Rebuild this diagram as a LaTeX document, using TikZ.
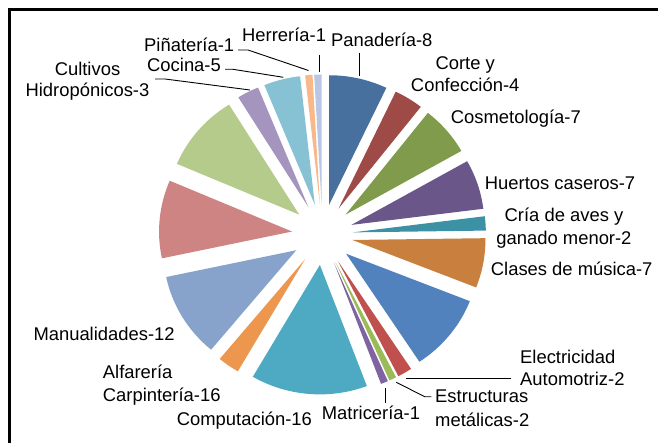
\documentclass[tikz,border=0pt]{standalone}
\usepackage{fontspec}
\setmainfont{Liberation Sans}
\definecolor{cA}{HTML}{48709E}
\definecolor{cB}{HTML}{9E4A47}
\definecolor{cC}{HTML}{809B4C}
\definecolor{cD}{HTML}{6B5689}
\definecolor{cE}{HTML}{3D91A5}
\definecolor{cF}{HTML}{C9803F}
\definecolor{cG}{HTML}{5282BD}
\definecolor{cH}{HTML}{C0504D}
\definecolor{cI}{HTML}{9BBB59}
\definecolor{cJ}{HTML}{8064A2}
\definecolor{cK}{HTML}{4DAAC2}
\definecolor{cL}{HTML}{EC974D}
\definecolor{cM}{HTML}{87A3CB}
\definecolor{cN}{HTML}{CE8482}
\definecolor{cO}{HTML}{B5CB8C}
\definecolor{cP}{HTML}{A594BE}
\definecolor{cQ}{HTML}{86C2D4}
\definecolor{cR}{HTML}{F9B88A}
\definecolor{cS}{HTML}{B9C8E2}
\begin{document}
\begin{tikzpicture}[x=1pt,y=1pt,
  lbl/.style={inner sep=0pt, font=\fontsize{18.4}{22}\selectfont},
  leader/.style={line width=0.9pt, black},
  frameline/.style={line width=2.5pt, black}]
\useasboundingbox (0,0) rectangle (658,442);
\fill[white] (0,0) rectangle (658,442);
\clip (0,0) rectangle (658,442);
\draw[frameline] (9.5,-5) -- (9.5,432.5) -- (670,432.5);
\def\cx{322.4}\def\cy{207.5}\def\dd{30.5}\def\rx{133}\def\ry{129.5}
\foreach \s/\e/\col in {0/8/cA, 8/12/cB, 12/19/cC, 19/26/cD, 26/28/cE, 28/35/cF,
  35/46/cG, 46/48/cH, 48/49/cI, 49/50/cJ, 50/66/cK, 66/69/cL, 69/81/cM,
  81/92/cN, 92/103/cO, 103/106/cP, 106/111/cQ, 111/112/cR, 112/113/cS} {
  \pgfmathsetmacro\aS{90-\s*3.1858407}
  \pgfmathsetmacro\aE{90-\e*3.1858407}
  \pgfmathsetmacro\aM{(\aS+\aE)/2}
  \fill[\col] ({\cx+\dd*cos(\aM)},{\cy+\dd*sin(\aM)}) -- ++({\rx*cos(\aS)},{\ry*sin(\aS)})
     arc[start angle=\aS, end angle=\aE, x radius=\rx, y radius=\ry] -- cycle;
}
% labels
\node[lbl, anchor=base west] (herr) at (242,400.3) {Herrería-1};
\node[lbl, anchor=base west] (pina) at (144,390.3) {Piñatería-1};
\node[lbl, anchor=base west] (coci) at (147,370.3) {Cocina-5};
\node[lbl, anchor=base] (cult1) at (87.5,366) {Cultivos};
\node[lbl, anchor=base] (cult2) at (87.5,345.3) {Hidropónicos-3};
\node[lbl, anchor=base west] (pana) at (331,395.3) {Panadería-8};
\node[lbl, anchor=base] (cort1) at (465.2,372.5) {Corte y};
\node[lbl, anchor=base] (cort2) at (465.2,350.3) {Confección-4};
\node[lbl, anchor=base west] (cosm) at (450.7,318.7) {Cosmetología-7};
\node[lbl, anchor=base west] (huer) at (484.7,252.7) {Huertos caseros-7};
\node[lbl, anchor=base] (cria1) at (564,220) {Cría de aves y};
\node[lbl, anchor=base] (cria2) at (564,197) {ganado menor-2};
\node[lbl, anchor=base west] (clas) at (490.7,167) {Clases de música-7};
\node[lbl, anchor=base west] (elec1) at (520,78.7) {Electricidad};
\node[lbl, anchor=base west] (elec2) at (520,57) {Automotriz-2};
\node[lbl, anchor=base west] (estr1) at (435,39.3) {Estructuras};
\node[lbl, anchor=base west] (estr2) at (435,16) {metálicas-2};
\node[lbl, anchor=base west] (matr) at (321.7,22.7) {Matricería-1};
\node[lbl, anchor=base west] (comp) at (176.7,17) {Computación-16};
\node[lbl, anchor=base west] (alfa1) at (102.7,63.7) {Alfarería};
\node[lbl, anchor=base west] (alfa2) at (102.7,40.3) {Carpintería-16};
\node[lbl, anchor=base west] (manu) at (33.3,101.3) {Manualidades-12};
% leader coordinates
\coordinate (herrA) at (319,387);
\coordinate (herrB) at (319,370);
\coordinate (pinaA) at (238,392);
\coordinate (pinaK) at (248,392);
\coordinate (pinaB) at (308.5,371.5);
\coordinate (cociA) at (225,372.7);
\coordinate (cociK) at (233,372.7);
\coordinate (cociB) at (283.3,364.7);
\coordinate (cultA) at (155,363);
\coordinate (cultK) at (165,363);
\coordinate (cultB) at (250,352);
\coordinate (panaA) at (359.7,389);
\coordinate (panaB) at (359.7,366);
\coordinate (elecA) at (511.3,63.7);
\coordinate (elecB) at (405.7,63.7);
\coordinate (estrA) at (431.3,45.3);
\coordinate (estrK) at (424.7,45.3);
\coordinate (estrB) at (396.3,59.7);
\coordinate (matrA) at (385.7,39.3);
\coordinate (matrB) at (385.7,54);
\draw[leader] (herrA) -- (herrB);
\draw[leader] (pinaA) -- (pinaK) -- (pinaB);
\draw[leader] (cociA) -- (cociK) -- (cociB);
\draw[leader] (cultA) -- (cultK) -- (cultB);
\draw[leader] (panaA) -- (panaB);
\draw[leader] (elecA) -- (elecB);
\draw[leader] (estrA) -- (estrK) -- (estrB);
\draw[leader] (matrA) -- (matrB);
\end{tikzpicture}
\end{document}
